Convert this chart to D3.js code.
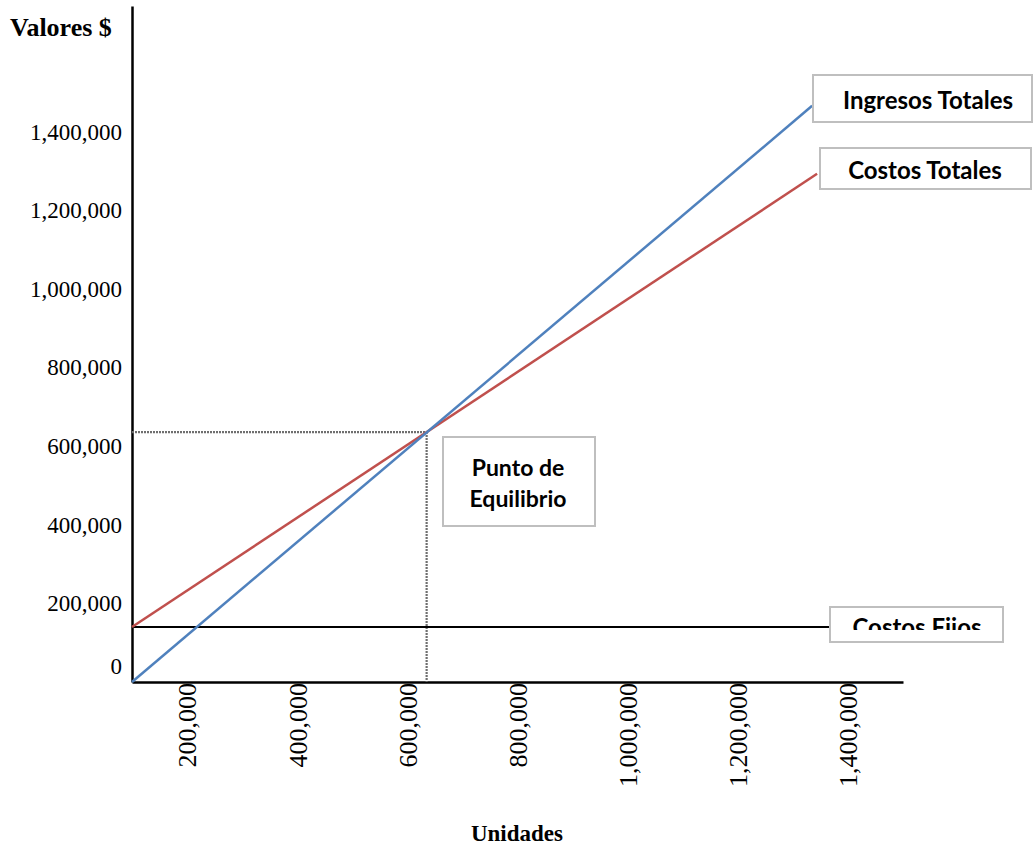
<!DOCTYPE html>
<html>
<head>
<meta charset="utf-8">
<script src="https://cdn.jsdelivr.net/npm/d3@7"></script>
<style>
  html, body { margin: 0; padding: 0; background: #fff; }
  svg { display: block; }
</style>
</head>
<body>
<div id="chart"></div>
<script>
// ---- Data ----
const xTickValues = [200000, 400000, 600000, 800000, 1000000, 1200000, 1400000];
const yTickValues = [0, 200000, 400000, 600000, 800000, 1000000, 1200000, 1400000];

const ingresosUnits = [100000, 1335000];
const ingresosValues = [0, 1466000];

const costosTotalesUnits = [100000, 1344000];
const costosTotalesValues = [140000, 1293000];

const costosFijosUnits = [100000, 1367000];
const costosFijosValues = [140000, 140000];

const equilibrioUnits = 635000;
const equilibrioValue = 636000;

const labelIngresos = "Ingresos Totales";
const labelCostosTotales = "Costos Totales";
const labelCostosFijos = "Costos Fijos";
const labelEquilibrio = ["Punto de", "Equilibrio"];
const yTitle = "Valores $";
const xTitle = "Unidades";

// ---- Layout ----
const W = 1034, H = 846;
const svg = d3.select("#chart").append("svg").attr("width", W).attr("height", H);

const x = d3.scaleLinear().domain([100000, 1500000]).range([132, 903]);
const y = d3.scaleLinear().domain([0, 1720000]).range([682, 6]);

const fmt = d3.format(",");
const serif = "'Liberation Serif', 'Times New Roman', serif";
const sans = "Lato, 'Open Sans', sans-serif";

// Y axis
const yAxis = svg.append("g").attr("transform", `translate(${x.range()[0]},0)`)
  .call(d3.axisLeft(y).tickValues(yTickValues).tickFormat(fmt).tickSize(0).tickPadding(10));
yAxis.select(".domain").attr("stroke", "#000").attr("stroke-width", 2.5);
yAxis.selectAll("text").attr("font-family", serif).attr("font-size", 23).attr("fill", "#000")
  .attr("dy", d => d === 0 ? "-0.35em" : "0.32em");

// X axis
const xAxis = svg.append("g").attr("transform", `translate(0,${y(0)})`)
  .call(d3.axisBottom(x).tickValues(xTickValues).tickFormat(fmt).tickSize(0).tickPadding(0));
xAxis.select(".domain").attr("stroke", "#000").attr("stroke-width", 2.5);
xAxis.selectAll("text")
  .attr("font-family", serif).attr("font-size", 26).attr("fill", "#000")
  .attr("transform", "rotate(-90)")
  .attr("text-anchor", "end")
  .attr("x", -1).attr("y", 0).attr("dy", "0.34em");

// Titles
svg.append("text").attr("x", 10).attr("y", 36)
  .attr("font-family", serif).attr("font-weight", "bold").attr("font-size", 26)
  .text(yTitle);
svg.append("text").attr("x", 517).attr("y", 841).attr("text-anchor", "middle")
  .attr("font-family", serif).attr("font-weight", "bold").attr("font-size", 23)
  .text(xTitle);

// Break-even guide lines
const guide = svg.append("g").attr("stroke", "#6f6f6f").attr("stroke-width", 2.2)
  .attr("stroke-dasharray", "2 1").attr("fill", "none");
guide.append("line")
  .attr("x1", x(100000)).attr("x2", x(equilibrioUnits))
  .attr("y1", y(equilibrioValue)).attr("y2", y(equilibrioValue));
guide.append("line")
  .attr("x1", x(equilibrioUnits)).attr("x2", x(equilibrioUnits))
  .attr("y1", y(equilibrioValue)).attr("y2", y(0));

// Lines
const line = d3.line().x(d => x(d[0])).y(d => y(d[1]));
function drawSeries(units, values, color, width) {
  svg.append("path").datum(d3.zip(units, values))
    .attr("d", line).attr("fill", "none")
    .attr("stroke", color).attr("stroke-width", width);
}
drawSeries(costosFijosUnits, costosFijosValues, "#000", 2);
drawSeries(costosTotalesUnits, costosTotalesValues, "#c0504d", 2.5);
drawSeries(ingresosUnits, ingresosValues, "#4f81bd", 2.5);

// Label boxes
function box(x0, y0, w, h) {
  svg.append("rect").attr("x", x0).attr("y", y0).attr("width", w).attr("height", h)
    .attr("fill", "#fff").attr("stroke", "#bfbfbf").attr("stroke-width", 2);
}
function boxText(cx, cy, txt, size) {
  return svg.append("text").attr("x", cx).attr("y", cy).attr("text-anchor", "middle")
    .attr("dominant-baseline", "central")
    .attr("font-family", sans).attr("font-weight", "bold").attr("font-size", size)
    .attr("fill", "#000").text(txt);
}

box(813, 75, 219, 47);
boxText(928, 99, labelIngresos, 24);

box(820, 148, 211, 41);
boxText(925, 169, labelCostosTotales, 24);

box(443, 437, 152, 89);
boxText(518, 467, labelEquilibrio[0], 23);
boxText(518, 498, labelEquilibrio[1], 23);

box(830, 607, 173, 35);
svg.append("clipPath").attr("id", "cfclip").append("rect")
  .attr("x", 831).attr("y", 608).attr("width", 171).attr("height", 22);
svg.append("text").attr("x", 917).attr("y", 636).attr("text-anchor", "middle")
  .attr("clip-path", "url(#cfclip)")
  .attr("font-family", sans).attr("font-weight", "bold").attr("font-size", 24)
  .attr("fill", "#000").text(labelCostosFijos);
</script>
</body>
</html>
